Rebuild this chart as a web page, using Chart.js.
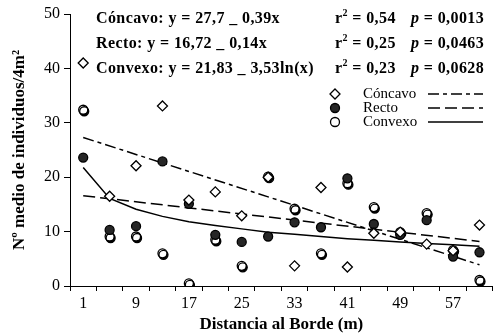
<!DOCTYPE html>
<html>
<head>
<meta charset="utf-8">
<script src="https://cdn.jsdelivr.net/npm/chart.js@4/dist/chart.umd.min.js"></script>
<style>
  html, body { margin: 0; padding: 0; background: #fff; }
  canvas { display: block; }
</style>
</head>
<body>
<canvas id="chart" width="499" height="335"></canvas>
<script>
// distances (m), one category every 4 m
const distances = ['1', '5', '9', '13', '17', '21', '25', '29', '33', '37', '41', '45', '49', '53', '57', '61'];

// observed means per site type
const concavo = [41, 16.5, 22.1, 33.1, 15.8, 17.3, 12.9, 20, 3.7, 18.1, 3.5, 9.7, 9.9, 7.7, 6.5, 11.2];
const recto = [23.6, 10.3, 11.0, 22.9, 15.1, 9.4, 8.1, 9.1, 11.7, 10.8, 19.8, 11.4, 9.4, 12.1, 5.4, 6.2];
const convexo = [32.4, 9.1, 9.1, 6.0, 0.5, 8.5, 3.7, 20.1, 14.2, 6.0, 18.9, 14.5, 9.9, 13.4, 6.6, 1.1];

// fitted lines (straight ones only need the ends)
const concavoFit = [27.3, null, null, null, null, null, null, null, null, null, null, null, null, null, null, 3.9];
const rectoFit = [16.6, null, null, null, null, null, null, null, null, null, null, null, null, null, null, 8.2];
const convexoFit = [21.8, 16.1, 14.1, 12.8, 11.8, 11.1, 10.5, 9.9, 9.5, 9.1, 8.7, 8.4, 8.1, 7.8, 7.6, 7.3];

const yTicks = [0, 10, 20, 30, 40, 50];

const SERIF = '"Liberation Serif", "Times New Roman", serif';

const equations = [
  { text: 'Cóncavo: y = 27,7 _ 0,39x', r2: '0,54', p: '0,0013' },
  { text: 'Recto: y = 16,72 _ 0,14x', r2: '0,25', p: '0,0463' },
  { text: 'Convexo: y = 21,83 _ 3,53ln(x)', r2: '0,23', p: '0,0628' },
];

const legendRows = [
  { label: 'Cóncavo', point: 0, line: 3 },
  { label: 'Recto', point: 1, line: 4 },
  { label: 'Convexo', point: 2, line: 5 },
];

// dark offset behind the open circles, like the original marker shading
const shadowPlugin = {
  id: 'shadow',
  beforeDatasetDraw(chart, args) {
    const ds = chart.data.datasets[args.index];
    if (!ds.shadow) return;
    const ctx = chart.ctx;
    ctx.save();
    ctx.shadowColor = '#000';
    ctx.shadowOffsetX = 1;
    ctx.shadowOffsetY = 1.5;
    ctx.shadowBlur = 0;
  },
  afterDatasetDraw(chart, args) {
    const ds = chart.data.datasets[args.index];
    if (!ds.shadow) return;
    chart.ctx.restore();
  }
};

const textPlugin = {
  id: 'texts',
  afterDraw(chart) {
    const ctx = chart.ctx;
    ctx.save();
    ctx.fillStyle = '#000';
    ctx.textBaseline = 'middle';
    ctx.textAlign = 'left';
    ctx.letterSpacing = '0.4px';

    // equations block
    const rowsY = [19, 44, 69];
    equations.forEach((eq, i) => {
      const y = rowsY[i];
      ctx.font = 'bold 16px ' + SERIF;
      ctx.fillText(eq.text, 96, y);

      let x = 335;
      ctx.fillText('r', x, y);
      x += ctx.measureText('r').width;
      ctx.font = 'bold 10px ' + SERIF;
      ctx.fillText('2', x, y - 6);
      x += ctx.measureText('2').width;
      ctx.font = 'bold 16px ' + SERIF;
      ctx.fillText(' = ' + eq.r2, x, y);

      x = 411;
      ctx.font = 'italic bold 16px ' + SERIF;
      ctx.fillText('p', x, y);
      x += ctx.measureText('p').width;
      ctx.font = 'bold 16px ' + SERIF;
      ctx.fillText(' = ' + eq.p, x, y);
    });
    ctx.letterSpacing = '0px';

    // legend
    const legY = [94, 108, 122];
    legendRows.forEach((row, i) => {
      const y = legY[i];
      const pds = chart.data.datasets[row.point];
      const lds = chart.data.datasets[row.line];
      ctx.fillStyle = pds.backgroundColor;
      ctx.strokeStyle = pds.borderColor;
      ctx.lineWidth = pds.borderWidth;
      ctx.beginPath();
      if (pds.pointStyle === 'rectRot') {
        const r = pds.pointRadius;
        ctx.moveTo(335, y - r);
        ctx.lineTo(335 + r, y);
        ctx.lineTo(335, y + r);
        ctx.lineTo(335 - r, y);
        ctx.closePath();
      } else {
        ctx.arc(335, y, pds.pointRadius, 0, Math.PI * 2);
      }
      ctx.fill();
      ctx.stroke();

      ctx.fillStyle = '#000';
      ctx.font = '15px ' + SERIF;
      ctx.fillText(row.label, 363, y);

      ctx.strokeStyle = lds.borderColor;
      ctx.lineWidth = lds.borderWidth;
      ctx.setLineDash(lds.borderDash || []);
      ctx.beginPath();
      ctx.moveTo(428, y);
      ctx.lineTo(483, y);
      ctx.stroke();
      ctx.setLineDash([]);
    });
    ctx.restore();
  }
};

const pointSet = (label, data, style, fill, shadow) => ({
  type: 'line',
  label: label,
  data: data,
  showLine: false,
  pointStyle: style,
  pointRadius: style === 'rectRot' ? 5 : 4.5,
  pointHoverRadius: 5,
  backgroundColor: fill,
  borderColor: '#000',
  borderWidth: 1.3,
  shadow: shadow,
});

const fitSet = (label, data, dash) => ({
  type: 'line',
  label: label,
  data: data,
  spanGaps: true,
  borderColor: '#000',
  borderWidth: 1.5,
  borderDash: dash,
  pointRadius: 0,
  tension: 0,
  fill: false,
});

new Chart(document.getElementById('chart'), {
  type: 'line',
  data: {
    labels: distances,
    datasets: [
      pointSet('Cóncavo', concavo, 'rectRot', '#fff', false),
      pointSet('Recto', recto, 'circle', '#262626', false),
      pointSet('Convexo', convexo, 'circle', '#fff', true),
      fitSet('Cóncavo ajuste', concavoFit, [11, 4, 4, 4]),
      fitSet('Recto ajuste', rectoFit, [12, 5]),
      fitSet('Convexo ajuste', convexoFit, []),
    ],
  },
  options: {
    responsive: false,
    animation: false,
    devicePixelRatio: 1,
    layout: { padding: { top: 14, right: 3, left: 0, bottom: 0 } },
    plugins: {
      legend: { display: false },
      tooltip: { enabled: false },
    },
    scales: {
      x: {
        type: 'category',
        offset: true,
        grid: {
          offset: true,
          drawOnChartArea: false,
          drawTicks: true,
          tickLength: 5,
          color: '#000',
        },
        border: { color: '#000', width: 1 },
        ticks: {
          autoSkip: false,
          maxRotation: 0,
          color: '#000',
          padding: 3,
          font: { family: SERIF, size: 16 },
          callback: (v, i) => (i % 2 === 0 ? distances[i] : ''),
        },
        title: {
          display: true,
          text: 'Distancia al Borde (m)',
          color: '#000',
          font: { family: SERIF, size: 17, weight: 'bold' },
          padding: { top: 0, bottom: 0 },
        },
        afterFit: (scale) => { scale.height = 49; },
      },
      y: {
        min: 0,
        max: 50,
        afterBuildTicks: (scale) => { scale.ticks = yTicks.map((v) => ({ value: v })); },
        grid: {
          drawOnChartArea: false,
          drawTicks: true,
          tickLength: 6,
          color: '#000',
        },
        border: { color: '#000', width: 1 },
        ticks: {
          color: '#000',
          padding: 4,
          font: { family: SERIF, size: 16 },
        },
        title: {
          display: true,
          text: 'Nº medio de individuos/4m²',
          color: '#000',
          font: { family: SERIF, size: 17, weight: 'bold' },
          padding: { top: 9, bottom: 0 },
        },
        afterFit: (scale) => { scale.width = 70; },
      },
    },
  },
  plugins: [shadowPlugin, textPlugin],
});
</script>
</body>
</html>
